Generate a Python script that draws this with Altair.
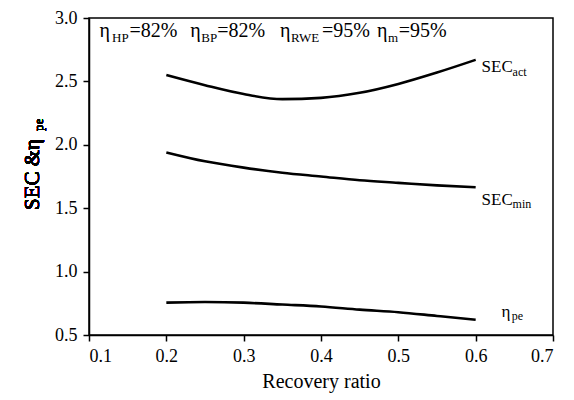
import altair as alt
import pandas as pd

FONT = "Liberation Serif"

# ---- data ----
recovery = [0.2, 0.25, 0.3, 0.35, 0.4, 0.45, 0.5, 0.55, 0.6]
sec_act = [2.55, 2.47, 2.40, 2.36, 2.37, 2.41, 2.48, 2.57, 2.67]
sec_min = [1.94, 1.87, 1.82, 1.78, 1.75, 1.72, 1.70, 1.68, 1.665]
eta_pe = [0.755, 0.76, 0.755, 0.74, 0.725, 0.70, 0.68, 0.65, 0.62]

x_ticks = [0.1, 0.2, 0.3, 0.4, 0.5, 0.6, 0.7]
y_ticks = [0.5, 1.0, 1.5, 2.0, 2.5, 3.0]

# annotation pieces: text, x (data), y (data), font size
ann_text = ["η", "HP", "=82%", "η", "BP", "=82%", "η", "RWE", "=95%", "η", "m", "=95%",
            "SEC", "act", "SEC", "min", "η", "pe"]
ann_x = [0.1135, 0.1299, 0.1523, 0.2310, 0.2452, 0.2658, 0.3471, 0.3613, 0.4013,
         0.4723, 0.4865, 0.5006,
         0.6077, 0.6477, 0.6077, 0.6477, 0.6335, 0.6465]
ann_y = [2.850, 2.811, 2.850, 2.850, 2.811, 2.850, 2.850, 2.811, 2.850,
         2.850, 2.811, 2.850,
         2.574, 2.543, 1.525, 1.502, 0.642, 0.618]
ann_size = [20, 13, 20, 20, 13, 20, 20, 13, 20, 20, 13, 20,
            17, 12, 17, 12, 17, 12]

ytitle_main = "SEC &η"
ytitle_sub = "pe"
xtitle = "Recovery ratio"

# ---- tables ----
rows = []
for name, vals in [("SEC_act", sec_act), ("SEC_min", sec_min), ("eta_pe", eta_pe)]:
    for r, v in zip(recovery, vals):
        rows.append({"series": name, "rr": r, "val": v})
df = pd.DataFrame(rows)
ann = pd.DataFrame({"text": ann_text, "rr": ann_x, "val": ann_y, "size": ann_size})

x_scale = alt.Scale(domain=[0.1, 0.7], nice=False, zero=False)
y_scale = alt.Scale(domain=[0.5, 3.0], nice=False, zero=False)
x_axis = alt.Axis(values=x_ticks, format=".1f", title=xtitle)
y_axis = alt.Axis(values=y_ticks, format=".1f", title=None)

lines = alt.Chart(df).mark_line(color="black", strokeWidth=2.6, interpolate="monotone").encode(
    x=alt.X("rr:Q", scale=x_scale, axis=x_axis),
    y=alt.Y("val:Q", scale=y_scale, axis=y_axis),
    detail="series:N",
)

labels = alt.Chart(ann).mark_text(
    align="left", baseline="alphabetic", font=FONT, fontWeight="normal", color="black"
).encode(
    x=alt.X("rr:Q", scale=x_scale, axis=x_axis),
    y=alt.Y("val:Q", scale=y_scale, axis=y_axis),
    text="text:N",
    size=alt.Size("size:Q", scale=None, legend=None),
)

ytitle1 = alt.Chart(ann).mark_text(
    angle=270, align="left", baseline="alphabetic", font=FONT, fontSize=21,
    fontWeight="normal", color="black"
).encode(x=alt.value(-50), y=alt.value(192), text=alt.value(ytitle_main))

ytitle2 = alt.Chart(ann).mark_text(
    angle=270, align="left", baseline="alphabetic", font=FONT, fontSize=13,
    fontWeight="normal", color="black"
).encode(x=alt.value(-46), y=alt.value(113), text=alt.value(ytitle_sub))

chart = alt.layer(lines, labels, ytitle1, ytitle2).properties(
    width=464, height=317,
    padding={"left": 81, "top": 10, "right": 13, "bottom": 58},
    autosize=alt.AutoSizeParams(type="none"),
).configure_view(
    stroke="black", strokeWidth=1.5
).configure_axis(
    grid=False,
    domainColor="black", domainWidth=1.5,
    tickColor="black", tickWidth=1.5, tickSize=6,
    labelFont=FONT, labelFontSize=18, labelColor="black", labelPadding=6,
    titleFont=FONT, titleFontSize=20, titleFontWeight="normal", titleColor="black",
    titlePadding=6,
)

chart.save("out.html", embed_options={"renderer": "svg", "actions": False})
